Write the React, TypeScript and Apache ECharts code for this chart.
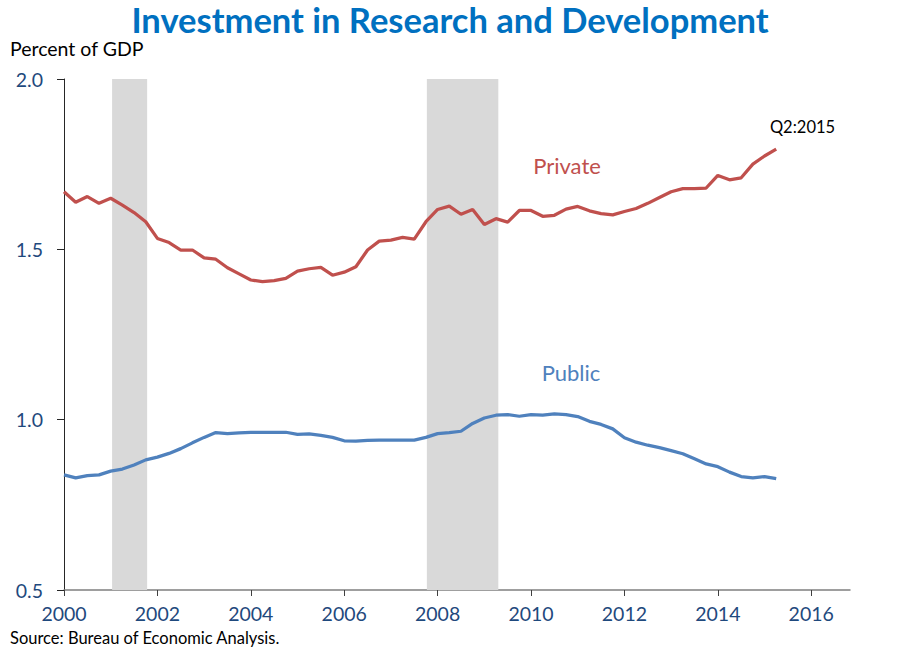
import React, { useEffect, useRef } from "react";
import * as echarts from "echarts";

const startYear = 2000;
const privateRD = [
  1.669, 1.638, 1.655, 1.635, 1.650, 1.630, 1.608, 1.581, 1.532, 1.520,
  1.498, 1.498, 1.475, 1.471, 1.446, 1.428, 1.410, 1.405, 1.408, 1.415,
  1.436, 1.443, 1.447, 1.424, 1.433, 1.449, 1.498, 1.524, 1.527, 1.535,
  1.530, 1.581, 1.617, 1.627, 1.603, 1.617, 1.573, 1.590, 1.580, 1.614,
  1.614, 1.597, 1.600, 1.618, 1.626, 1.613, 1.605, 1.601, 1.611, 1.620,
  1.635, 1.652, 1.669, 1.678, 1.678, 1.680, 1.717, 1.704, 1.710, 1.750,
  1.774, 1.794,
];
const publicRD = [
  0.838, 0.829, 0.836, 0.838, 0.849, 0.855, 0.867, 0.882, 0.890, 0.901,
  0.915, 0.932, 0.948, 0.962, 0.959, 0.961, 0.963, 0.963, 0.963, 0.963,
  0.957, 0.958, 0.954, 0.948, 0.938, 0.937, 0.939, 0.940, 0.940, 0.940,
  0.940, 0.948, 0.959, 0.962, 0.966, 0.989, 1.005, 1.013, 1.015, 1.010,
  1.015, 1.013, 1.017, 1.015, 1.009, 0.995, 0.986, 0.973, 0.947, 0.934,
  0.925, 0.918, 0.909, 0.900, 0.885, 0.870, 0.862, 0.846, 0.833, 0.829,
  0.833, 0.827,
];
const recessions = [
  [2001.03, 2001.78],
  [2007.77, 2009.3],
];
const xTicks = [2000, 2002, 2004, 2006, 2008, 2010, 2012, 2014, 2016];
const yTicks = [0.5, 1.0, 1.5, 2.0];

const FONT = "Lato, 'Open Sans', sans-serif";

export default function App() {
  const ref = useRef<HTMLDivElement>(null);
  useEffect(() => {
    if (!ref.current) return;
    const chart = echarts.init(ref.current, null, { renderer: "svg" });
    const toXY = (arr: number[]) => arr.map((v, i) => [startYear + i / 4, v]);
    chart.setOption({
      animation: false,
      backgroundColor: "#ffffff",
      textStyle: { fontFamily: FONT },
      title: {
        text: "Investment in Research and Development",
        left: "center",
        top: -3,
        textStyle: { fontFamily: FONT, fontWeight: "bold", fontSize: 34.5, color: "#0070C0" },
      },
      grid: { left: 64, right: 50, top: 79, bottom: 63, containLabel: false },
      xAxis: {
        type: "value",
        min: 2000,
        max: 2016.83,
        splitLine: { show: false },
        axisLine: { lineStyle: { color: "#7F7F7F", width: 1.5 } },
        axisTick: { show: true, length: 6, lineStyle: { color: "#404040" }, customValues: xTicks },
        axisLabel: {
          customValues: xTicks,
          color: "#1F497D",
          fontSize: 19.5,
          fontFamily: FONT,
          margin: 13,
          formatter: (v: number) => String(Math.round(v)),
        },
      },
      yAxis: {
        type: "value",
        min: 0.5,
        max: 2.0,
        interval: 0.5,
        splitLine: { show: false },
        axisLine: { show: true, lineStyle: { color: "#262626", width: 1 } },
        axisTick: { show: true, length: 7, lineStyle: { color: "#262626" }, customValues: yTicks },
        axisLabel: {
          customValues: yTicks,
          color: "#1F497D",
          fontSize: 19.5,
          fontFamily: FONT,
          margin: 21,
          formatter: (v: number) => v.toFixed(1),
        },
      },
      series: [
        {
          type: "line",
          name: "Private",
          data: toXY(privateRD),
          showSymbol: false,
          lineStyle: { color: "#C0504D", width: 3.25 },
          itemStyle: { color: "#C0504D" },
          z: 3,
          markArea: {
            silent: true,
            itemStyle: { color: "#D9D9D9" },
            data: recessions.map(([a, b]) => [{ xAxis: a }, { xAxis: b }]),
          },
        },
        {
          type: "line",
          name: "Public",
          data: toXY(publicRD),
          showSymbol: false,
          lineStyle: { color: "#4F81BD", width: 3.25 },
          itemStyle: { color: "#4F81BD" },
          z: 3,
        },
      ],
      graphic: [
        {
          type: "text",
          left: 10,
          top: 38,
          style: { text: "Percent of GDP", fontSize: 19.5, fontFamily: FONT, fill: "#000" },
        },
        {
          type: "text",
          left: 10,
          top: 629,
          style: { text: "Source: Bureau of Economic Analysis.", fontSize: 16.5, fontFamily: FONT, fill: "#000" },
        },
        {
          type: "text",
          x: 567,
          y: 165,
          style: { text: "Private", fontSize: 22, fontFamily: FONT, fill: "#C0504D", align: "center", verticalAlign: "middle" },
        },
        {
          type: "text",
          x: 571,
          y: 372,
          style: { text: "Public", fontSize: 22, fontFamily: FONT, fill: "#4F81BD", align: "center", verticalAlign: "middle" },
        },
        {
          type: "text",
          x: 802.5,
          y: 127,
          style: { text: "Q2:2015", fontSize: 16.5, fontFamily: FONT, fill: "#000", align: "center", verticalAlign: "middle" },
        },
      ],
    });
    return () => chart.dispose();
  }, []);
  return (
    <div
      ref={ref}
      style={{ position: "fixed", left: 0, top: 0, width: 900, height: 653 }}
    />
  );
}
